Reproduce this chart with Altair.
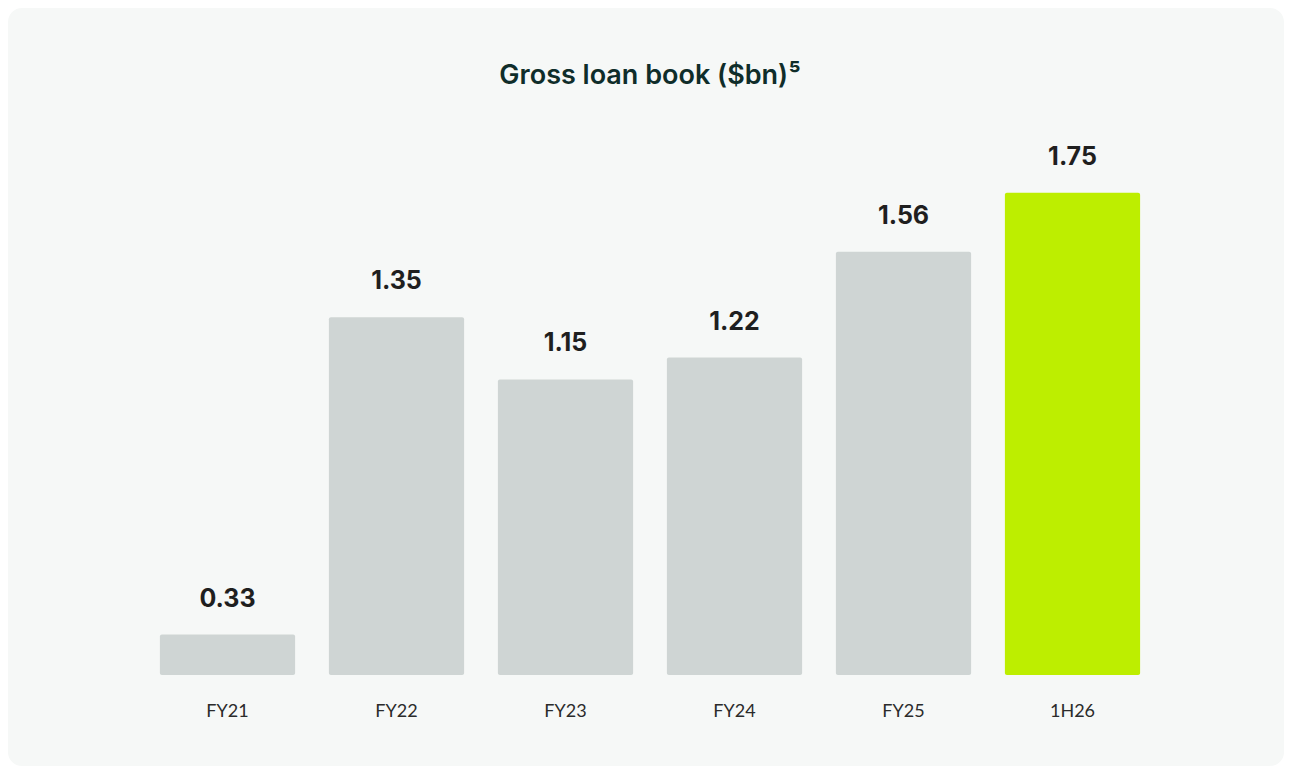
import altair as alt
import pandas as pd

periods = ["FY21", "FY22", "FY23", "FY24", "FY25", "1H26"]
loan_book = [0.33, 1.35, 1.15, 1.22, 1.56, 1.75]

df = pd.DataFrame({"period": periods, "value": loan_book})

PLOT_W, PLOT_H = 1014, 529
PAD_L, PAD_T, PAD_R, PAD_B = 135, 138, 127, 91

GRAY = "#cfd5d4"
LIME = "#bdee00"
PANEL = "#f6f8f7"

x_enc = alt.X("period:N", sort=periods,
              scale=alt.Scale(paddingInner=0.2, paddingOuter=0.1),
              axis=alt.Axis(title=None, labelAngle=0, domain=False, ticks=False,
                            labelPadding=27, labelFont="Lato", labelFontSize=18,
                            labelColor="#2b2b2b", labelBaseline="top", zindex=1))
y_scale = alt.Scale(domain=[0.2, 1.9], zero=False, nice=False)

panel = alt.Chart(alt.Data(values=[{"p": 1}])).mark_rect(
    fill=PANEL, cornerRadius=14
).encode(
    x=alt.value(-PAD_L), x2=alt.value(PLOT_W + PAD_R),
    y=alt.value(-PAD_T), y2=alt.value(PLOT_H + PAD_B),
)

base = alt.Chart(df)

bars = base.mark_bar(cornerRadius=2).encode(
    x=x_enc,
    y=alt.Y("value:Q", scale=y_scale, axis=None),
    y2=alt.datum(0.2),
    color=alt.condition(alt.datum.period == "1H26", alt.value(LIME), alt.value(GRAY)),
)

labels = base.mark_text(
    baseline="alphabetic", dy=-28, font="Inter", fontWeight="bold",
    fontSize=25, color="#1f1f1f"
).encode(
    x=alt.X("period:N", sort=periods),
    y=alt.Y("value:Q", scale=y_scale, axis=None),
    text=alt.Text("value:Q", format=".2f"),
)

chart = alt.layer(panel, bars, labels).properties(
    width=PLOT_W, height=PLOT_H,
    title=alt.TitleParams("Gross loan book ($bn)⁵", anchor="middle", frame="group",
                          font="Inter", fontSize=27, fontWeight=600,
                          color="#0f2d2a", offset=-103, baseline="alphabetic",
                          zindex=1),
    padding={"left": PAD_L, "top": PAD_T, "right": PAD_R, "bottom": PAD_B},
    autosize=alt.AutoSizeParams(type="none"),
    background="white",
).configure_view(stroke=None)

chart.save("out.html", embed_options={"renderer": "svg", "actions": False})
